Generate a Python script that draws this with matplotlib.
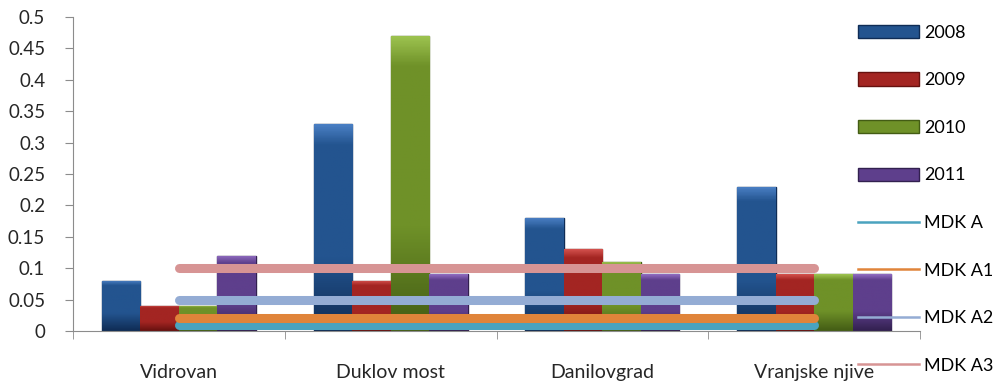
import numpy as np
import matplotlib.pyplot as plt
from matplotlib.colors import LinearSegmentedColormap

plt.rcParams['font.family'] = ['Lato', 'DejaVu Sans']

sites = ["Vidrovan", "Duklov most", "Danilovgrad", "Vranjske njive"]
years = ["2008", "2009", "2010", "2011"]
v2008 = [0.08, 0.33, 0.18, 0.23]
v2009 = [0.04, 0.08, 0.13, 0.09]
v2010 = [0.04, 0.47, 0.11, 0.09]
v2011 = [0.12, 0.09, 0.09, 0.09]
mdk_names = ["MDK A", "MDK A1", "MDK A2", "MDK A3"]
mdk_a = [0.01, 0.01, 0.01, 0.01]
mdk_a1 = [0.02, 0.02, 0.02, 0.02]
mdk_a2 = [0.05, 0.05, 0.05, 0.05]
mdk_a3 = [0.1, 0.1, 0.1, 0.1]
yticks = [0, 0.05, 0.1, 0.15, 0.2, 0.25, 0.3, 0.35, 0.4, 0.45, 0.5]

# light top / mid / dark bottom for each year
bar_cols = [("#4a7fc4", "#23548f", "#0f2c55"),
            ("#d2504c", "#a32522", "#66110f"),
            ("#9cc24f", "#6f9128", "#435c14"),
            ("#8f6bbf", "#5e3f8c", "#32204f")]
line_cols = ["#4aa3bf", "#e0843a", "#94acd4", "#d79494"]

fig = plt.figure(figsize=(10.03, 3.85), dpi=100)
ax = fig.add_axes([0.0728, 0.1403, 0.8445, 0.8155])

x = np.arange(len(sites))
w = 1 / 5.5
handles = []
for i, vals in enumerate([v2008, v2009, v2010, v2011]):
    light, mid, dark = bar_cols[i]
    bars = ax.bar(x + (i - 1.5) * w, vals, w, color=mid, edgecolor=dark,
                  linewidth=1.0, zorder=2, label=years[i])
    cmap = LinearSegmentedColormap.from_list(
        "g%d" % i, [(0, dark), (0.35, mid), (0.9, mid), (1, light)])
    grad = np.linspace(0, 1, 100).reshape(-1, 1)
    for b in bars:
        x0, y0 = b.get_x(), b.get_y()
        im = ax.imshow(grad, cmap=cmap, aspect='auto', origin='lower',
                       extent=[x0, x0 + b.get_width(), y0, y0 + b.get_height()],
                       zorder=2.5)
        im.set_clip_path(b)
    handles.append(bars)

line_handles = []
for i, vals in enumerate([mdk_a, mdk_a1, mdk_a2, mdk_a3]):
    ax.plot(x, vals, color=line_cols[i], lw=6.5, solid_capstyle='round', zorder=4)
    h, = ax.plot([], [], color=line_cols[i], lw=1.8, label=mdk_names[i])
    line_handles.append(h)

ax.set_xlim(-0.5, 3.5)
ax.set_ylim(0, 0.5)
ax.set_yticks(yticks)
ax.set_yticklabels(["0" if t == 0 else ("%g" % t) for t in yticks])
ax.set_xticks(x)
ax.set_xticklabels(sites)
ax.set_xticks(np.arange(-0.5, 4, 1), minor=True)
ax.tick_params(axis='x', which='major', length=0, pad=24, labelsize=14, colors='#262626')
ax.tick_params(axis='x', which='minor', length=6, color='#8c8c8c')
ax.tick_params(axis='y', length=6, pad=14, color='#8c8c8c', labelsize=13.5, labelcolor='#262626')
for s in ['top', 'right']:
    ax.spines[s].set_visible(False)
for s in ['left', 'bottom']:
    ax.spines[s].set_color('#8c8c8c')

fig.legend(handles + line_handles, years + mdk_names, loc='upper left',
           bbox_to_anchor=(0.855, 0.936), frameon=False, fontsize=13,
           borderpad=0, borderaxespad=0,
           handlelength=3.4, handleheight=0.75, handletextpad=0.3,
           labelspacing=1.75)

fig.savefig("out.png", dpi=100)
